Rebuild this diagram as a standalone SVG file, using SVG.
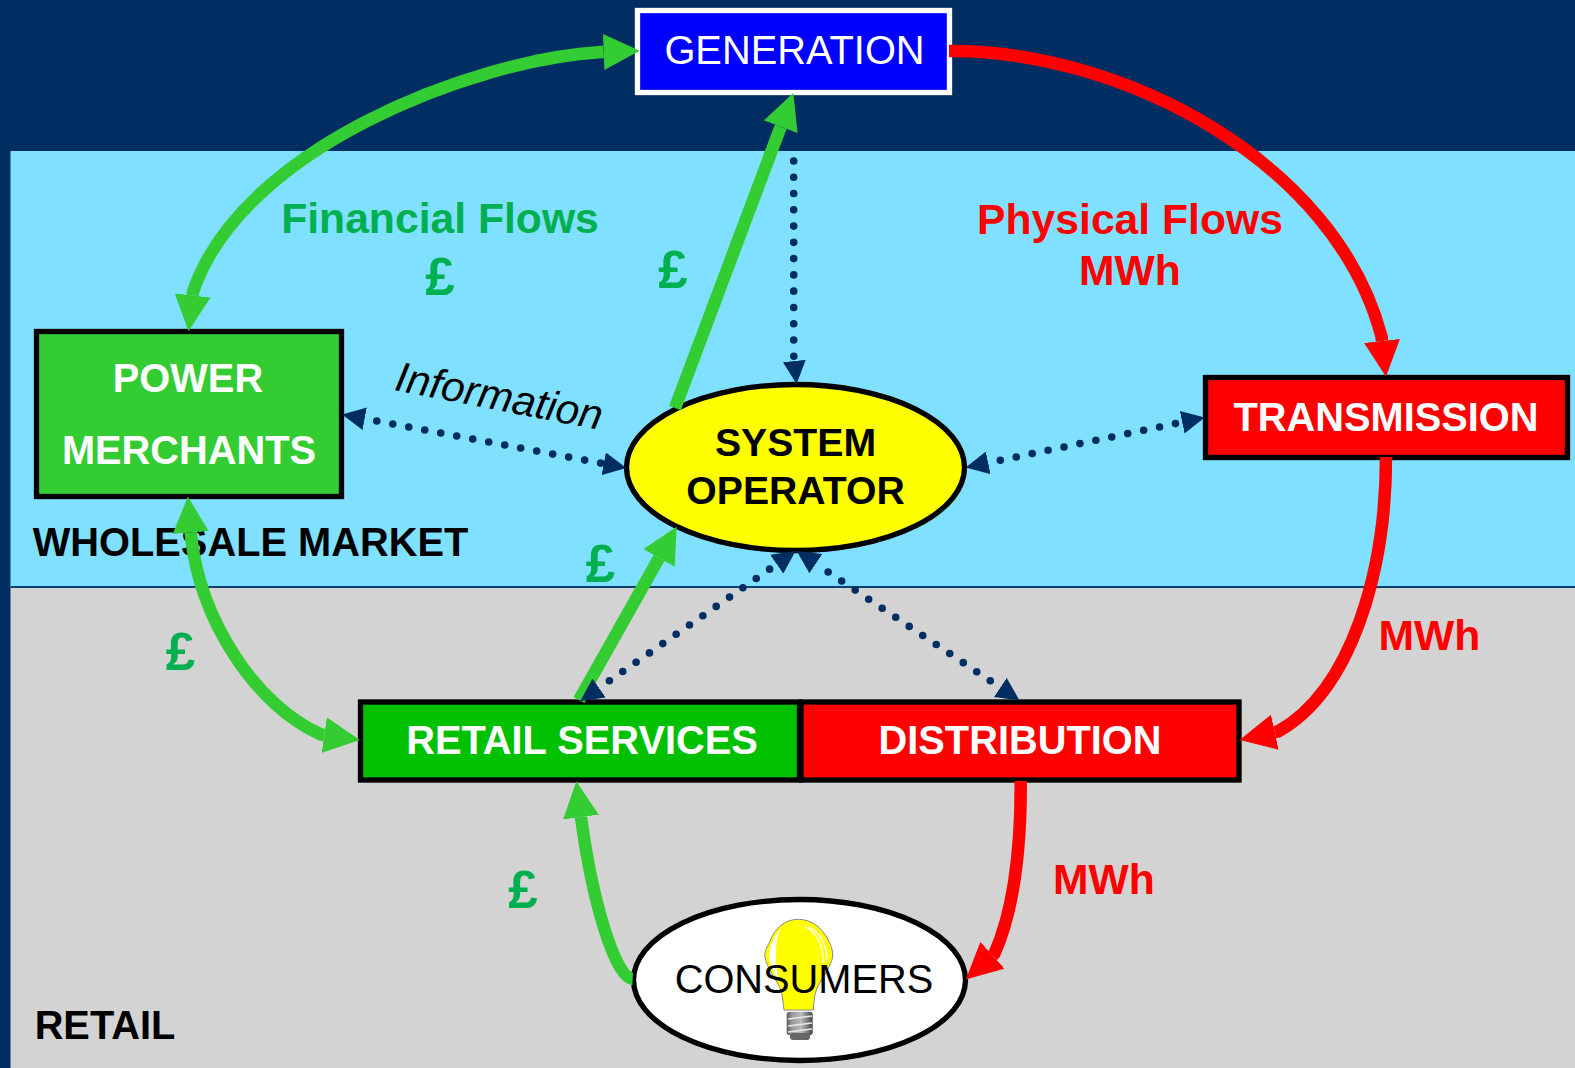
<svg xmlns="http://www.w3.org/2000/svg" width="1575" height="1068" viewBox="0 0 1575 1068">
<style>
text{font-family:"Liberation Sans",Arial,sans-serif;text-anchor:middle}
.b{font-weight:700;font-size:39.8px}
.so{font-weight:700;font-size:39.2px}
.big{font-weight:700;font-size:42.67px}
.r{font-size:39.8px}
.w{fill:#fff}.k{fill:#000}.red{fill:#f00}.gt{fill:#00B050}
.lb{font-weight:700;font-size:53px;fill:#00B050}
.box{stroke:#000;stroke-width:5.33}
.g{fill:none;stroke:#33CC33;stroke-width:12.5;stroke-linejoin:round}
.rd{fill:none;stroke:#f00;stroke-width:12.5;stroke-linejoin:round}
.d{fill:none;stroke:#002D62;stroke-width:7.6;stroke-linecap:round;stroke-dasharray:0 16.27}
.hl{fill:none;stroke:#fff;stroke-width:1.3}
</style>
<defs>
<marker id="hg" markerUnits="userSpaceOnUse" markerWidth="36" markerHeight="36" viewBox="0 0 36 36" refX="0" refY="18" orient="auto-start-reverse"><path d="M0 0L36 18L0 36z" fill="#33CC33"/></marker>
<marker id="hr" markerUnits="userSpaceOnUse" markerWidth="36" markerHeight="36" viewBox="0 0 36 36" refX="0" refY="18" orient="auto-start-reverse"><path d="M0 0L36 18L0 36z" fill="#f00"/></marker>
<marker id="hd" markerUnits="userSpaceOnUse" markerWidth="23" markerHeight="23" viewBox="0 0 23 23" refX="0" refY="11.500" orient="auto-start-reverse"><path d="M0 0L23 11.500L0 23z" fill="#002D62"/></marker>
<linearGradient id="sc" x1="0" x2="1" y1="0" y2="0"><stop offset="0" stop-color="#555"/><stop offset=".2" stop-color="#999"/><stop offset=".55" stop-color="#bbb"/><stop offset="1" stop-color="#444"/></linearGradient>
</defs>
<g id="background">
<rect width="1575" height="1068" fill="#002D62"/>
<rect x="10.500" y="151" width="1565" height="436" fill="#80E0FF"/>
<rect x="10.500" y="587" width="1565" height="481" fill="#D3D3D3"/>
<rect x="10.500" y="586" width="1565" height="2" fill="#0F3F70"/>
</g>
<text class="b k" x="250.500" y="556">WHOLESALE MARKET</text>
<text class="b k" x="105" y="1039">RETAIL</text>
<g id="node-generation"><rect x="637.500" y="10.500" width="312" height="82" fill="#00f" stroke="#fff" stroke-width="5.330"/><text class="r w" x="794.500" y="64">GENERATION</text></g>
<g id="node-power-merchants"><rect class="box" x="36.500" y="331.500" width="305" height="165" fill="#33CC33"/><text class="b w" x="188" y="392">POWER</text><text class="b w" x="189" y="464">MERCHANTS</text></g>
<g id="node-transmission"><rect class="box" x="1205.500" y="377.500" width="362" height="80" fill="#f00"/><text class="b w" x="1386" y="431">TRANSMISSION</text></g>
<g id="node-retail-services"><rect class="box" x="360.500" y="702" width="439" height="78" fill="#00C000"/><text class="b w" x="582" y="754">RETAIL SERVICES</text></g>
<g id="node-distribution"><rect class="box" x="801" y="702" width="438" height="78" fill="#f00"/><text class="b w" x="1020" y="754">DISTRIBUTION</text></g>
<g id="node-system-operator"><ellipse class="box" cx="795.500" cy="467.500" rx="169" ry="83" fill="#ff0"/><text class="so k" x="795.500" y="456">SYSTEM</text><text class="so k" x="795.500" y="504">OPERATOR</text></g>
<g id="node-consumers"><ellipse class="box" cx="799.500" cy="980" rx="166" ry="80.500" fill="#fff"/>
<path d="M798.300 919.300C785 919.300 775 928 770 941C766 949 764 953 765 957C766 966 775 978 780 988C783 995 783 1003 784 1010L813.300 1010C814 1003 814 995 817 988C822 978 831 966 832.700 957C833 950 831 945 828.300 940C822 928 812 919.300 798.300 919.300Z" fill="#ff0" stroke="#888" stroke-width="1"/>
<path d="M780.700 928.300Q766.700 946.700 770 961.700Q773.300 973.300 779.300 981.700Q775 966.700 776 950Q776.700 936.700 780.700 928.300Z" fill="#fff"/>
<path class="hl" d="M805 926.700Q823.300 936 823.300 963"/>
<path class="hl" d="M809 926.700Q828 938 826.500 962"/>
<rect x="786.700" y="1011.700" width="26" height="23.500" rx="3" fill="url(#sc)"/>
<path d="M788 1019L812 1016M788 1026L812 1023M788 1032L812 1029" stroke="#e8e8e8" stroke-width="1.500"/>
<rect x="790" y="1033" width="20" height="7" rx="3" fill="#666"/>
<text class="r k" x="804" y="993">CONSUMERS</text></g>
<g id="connectors">
<path class="g" marker-start="url(#hg)" marker-end="url(#hg)" d="M603.700 52L601 52.100C470 60 240 150 193 292L192.600 295.500"/>
<path class="rd" marker-end="url(#hr)" d="M949 51C1120 50 1335 160 1381.500 336.500L1382 341"/>
<path class="g" marker-end="url(#hg)" d="M675 408L780.700 126.700"/>
<path class="g" marker-start="url(#hg)" marker-end="url(#hg)" d="M190.700 532.500L190.900 535C200 620 255 705 321 734.550L324.200 735"/>
<path class="g" marker-end="url(#hg)" d="M579 700L659 558"/>
<path class="rd" marker-end="url(#hr)" d="M1386 457C1386 570 1352 690 1278 731.500L1274.800 732.200"/>
<path class="rd" marker-end="url(#hr)" d="M1020.700 781C1021 840 1016 905 994.500 953.500L992.500 955.300"/>
<path class="g" marker-end="url(#hg)" d="M632.700 979C615 978 592 900 581 817"/>
<path class="d" marker-end="url(#hd)" d="M793.700 161V355L794.300 361"/>
<path class="d" stroke-dashoffset="3.970" marker-start="url(#hd)" marker-end="url(#hd)" d="M364.700 418.700L603.700 463.700"/>
<path class="d" stroke-dashoffset="3.900" marker-start="url(#hd)" marker-end="url(#hd)" d="M988.200 462.800L1182.200 422.200"/>
<path class="d" stroke-dashoffset="3.700" marker-start="url(#hd)" marker-end="url(#hd)" d="M599.100 688L776.700 564.200"/>
<path class="d" stroke-dashoffset="1.400" marker-start="url(#hd)" marker-end="url(#hd)" d="M815.800 563.700L1000.300 687.500"/>
</g>
<g id="labels">
<text class="big gt" x="440" y="233">Financial Flows</text>
<text class="big red" x="1130" y="234">Physical Flows</text>
<text class="big red" x="1130" y="285">MWh</text>
<text class="big red" x="1429.500" y="650">MWh</text>
<text class="big red" x="1104" y="894">MWh</text>
<text class="lb" x="440" y="295">£</text>
<text class="lb" x="673" y="288">£</text>
<text class="lb" x="600.500" y="582">£</text>
<text class="lb" x="180.500" y="670">£</text>
<text class="lb" x="523" y="908">£</text>
<text class="k" font-style="italic" font-size="42" transform="translate(496.500 410) rotate(11)">Information</text>
</g>
</svg>
